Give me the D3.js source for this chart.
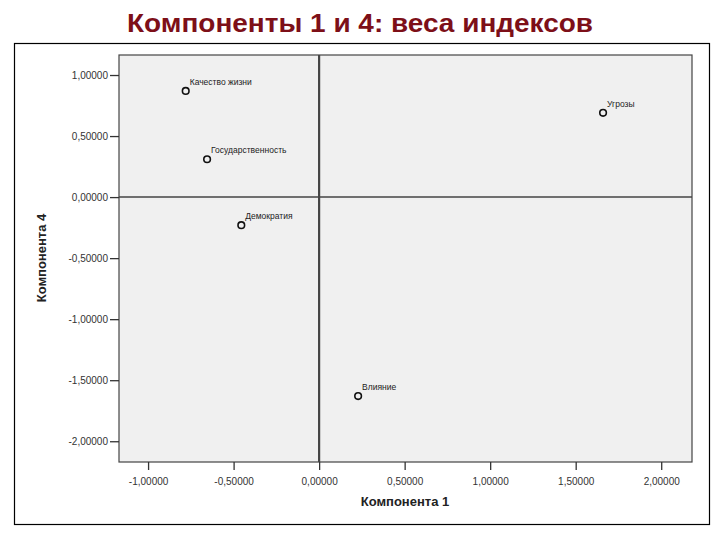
<!DOCTYPE html>
<html>
<head>
<meta charset="utf-8">
<script src="https://cdn.jsdelivr.net/npm/d3@7"></script>
<style>
  body { margin: 0; background: #fff; }
  text { font-family: "Liberation Sans", Arial, sans-serif; }
</style>
</head>
<body>
<svg id="chart" width="720" height="540"></svg>
<script>
// component weights of each index
const names = ["Качество жизни", "Государственность", "Демократия", "Угрозы", "Влияние"];
const comp1 = [-0.78, -0.655, -0.455, 1.66, 0.228];
const comp4 = [0.87, 0.31, -0.23, 0.69, -1.63];
const xTicks = [-1, -0.5, 0, 0.5, 1, 1.5, 2];
const yTicks = [1, 0.5, 0, -0.5, -1, -1.5, -2];

const svg = d3.select("#chart");
const fmt = d => d3.format(".5f")(d).replace(".", ",").replace("\u2212", "-");

// title
svg.append("text")
  .attr("x", 127).attr("y", 32)
  .attr("textLength", 466).attr("lengthAdjust", "spacingAndGlyphs")
  .attr("fill", "#7d0f18")
  .style("font-size", "25px").style("font-weight", "bold")
  .text("Компоненты 1 и 4: веса индексов");

// outer frame
svg.append("rect")
  .attr("x", 14.5).attr("y", 43.5).attr("width", 695).attr("height", 481)
  .attr("fill", "#fff").attr("stroke", "#000").attr("stroke-width", 1.2);

const plot = {left: 119, top: 55, right: 692, bottom: 462};
const x = d3.scaleLinear().domain([-1.17, 2.18]).range([plot.left, plot.right]);
const y = d3.scaleLinear().domain([-2.17, 1.164]).range([plot.bottom, plot.top]);

svg.append("rect")
  .attr("x", plot.left).attr("y", plot.top)
  .attr("width", plot.right - plot.left).attr("height", plot.bottom - plot.top)
  .attr("fill", "#f0f0f0").attr("stroke", "#444").attr("stroke-width", 1.2);

// axes
const xAxis = svg.append("g")
  .attr("transform", "translate(0," + plot.bottom + ")")
  .call(d3.axisBottom(x).tickValues(xTicks).tickFormat(fmt).tickSize(8).tickSizeOuter(0));
const yAxis = svg.append("g")
  .attr("transform", "translate(" + plot.left + ",0)")
  .call(d3.axisLeft(y).tickValues(yTicks).tickFormat(fmt).tickSize(9).tickSizeOuter(0));
[xAxis, yAxis].forEach(a => {
  a.select(".domain").remove();
  a.selectAll(".tick line").attr("stroke", "#333").attr("stroke-width", 1.3);
  a.selectAll(".tick text").attr("fill", "#333").style("font-size", "10px");
});
xAxis.selectAll(".tick text").attr("dy", "1.2em");
yAxis.selectAll(".tick text").attr("x", -11);

// reference lines
svg.append("line")
  .attr("x1", x(0)).attr("x2", x(0)).attr("y1", plot.top).attr("y2", plot.bottom)
  .attr("stroke", "#444").attr("stroke-width", 2.2);
svg.append("line")
  .attr("x1", plot.left).attr("x2", plot.right).attr("y1", y(0)).attr("y2", y(0))
  .attr("stroke", "#444").attr("stroke-width", 1.5);

// points
const pts = svg.append("g").selectAll("g")
  .data(names.map((n, i) => ({name: n, c1: comp1[i], c4: comp4[i]})))
  .enter().append("g");
pts.append("circle")
  .attr("cx", d => x(d.c1)).attr("cy", d => y(d.c4)).attr("r", 3.3)
  .attr("fill", "none").attr("stroke", "#111").attr("stroke-width", 1.6);
pts.append("text")
  .attr("x", d => x(d.c1) + 4).attr("y", d => y(d.c4) - 6)
  .attr("fill", "#222")
  .style("font-size", "8.5px")
  .text(d => d.name);

// axis titles
svg.append("text")
  .attr("x", 405).attr("y", 506)
  .attr("text-anchor", "middle")
  .style("font-size", "13px").style("font-weight", "bold").attr("fill", "#222")
  .text("Компонента 1");
svg.append("text")
  .attr("transform", "translate(46,258) rotate(-90)")
  .attr("text-anchor", "middle")
  .style("font-size", "13px").style("font-weight", "bold").attr("fill", "#222")
  .text("Компонента 4");
</script>
</body>
</html>
